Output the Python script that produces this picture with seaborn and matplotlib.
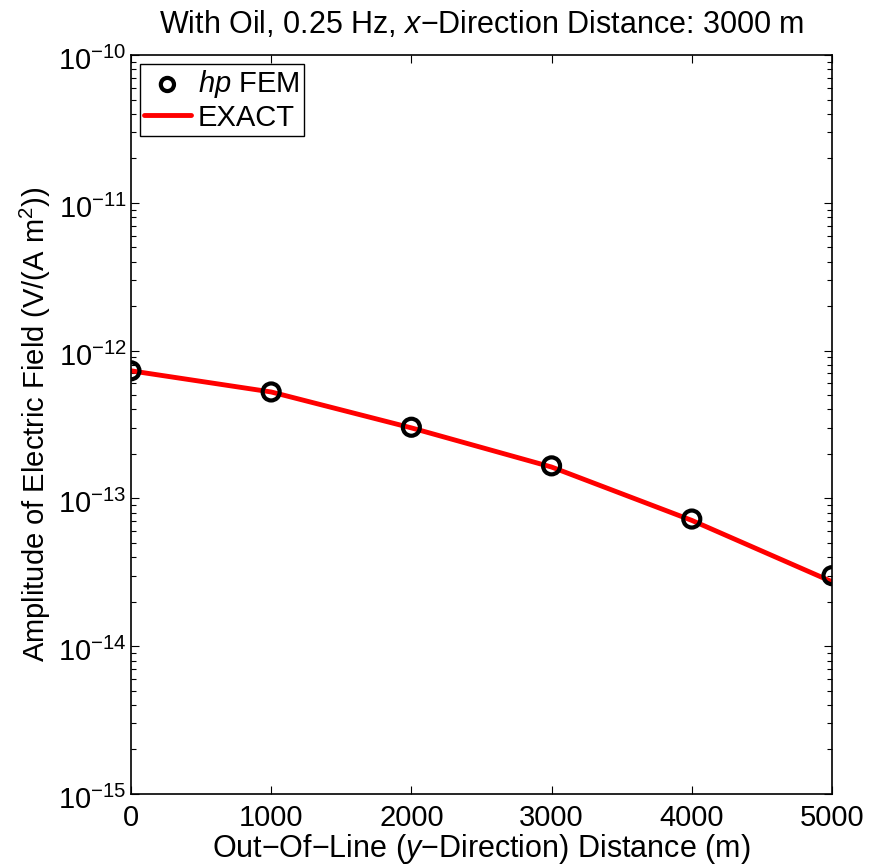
import numpy as np
import pandas as pd
import matplotlib
matplotlib.use("Agg")
import matplotlib.pyplot as plt
import matplotlib.transforms as mtransforms
import seaborn as sns
from matplotlib.ticker import LogLocator, NullFormatter

# Data
distance = [0, 1000, 2000, 3000, 4000, 5000]
fem_values = [7.3e-13, 5.25e-13, 3.03e-13, 1.66e-13, 7.25e-14, 3.0e-14]
exact_values = [7.3e-13, 5.25e-13, 3.0e-13, 1.63e-13, 7.1e-14, 2.73e-14]

df_fem = pd.DataFrame({"distance": distance, "value": fem_values})
df_exact = pd.DataFrame({"distance": distance, "value": exact_values})

sns.set_style("ticks")
plt.rcParams["font.family"] = ["Liberation Sans", "DejaVu Sans"]
plt.rcParams["mathtext.fontset"] = "custom"
plt.rcParams["mathtext.rm"] = "Liberation Sans"
plt.rcParams["mathtext.it"] = "Liberation Sans:italic"
plt.rcParams["xtick.direction"] = "in"
plt.rcParams["ytick.direction"] = "in"
plt.rcParams["text.color"] = "black"
plt.rcParams["axes.labelcolor"] = "black"
plt.rcParams["xtick.color"] = "black"
plt.rcParams["ytick.color"] = "black"

fig, ax = plt.subplots(figsize=(8.69, 8.65), dpi=100)
fig.subplots_adjust(left=0.1507, right=0.9574, bottom=0.0821, top=0.9364)

sns.scatterplot(
    data=df_fem, x="distance", y="value", ax=ax,
    marker="o", s=150, facecolors="none", edgecolor="black",
    linewidth=3, label="$\\it{hp}$ FEM", zorder=3
)
sns.lineplot(
    data=df_exact, x="distance", y="value", ax=ax,
    color="red", linewidth=3.5, label="EXACT", zorder=2
)

ax.set_yscale("log")
ax.set_ylim(1e-15, 1e-10)
ax.set_xlim(0, 5000)
ax.set_xticks(distance)
ax.yaxis.set_major_locator(LogLocator(base=10, numticks=10))
ax.yaxis.set_minor_locator(LogLocator(base=10, subs=np.arange(2, 10), numticks=20))
ax.yaxis.set_minor_formatter(NullFormatter())

ax.tick_params(which="both", top=True, right=True, labelsize=21)
ax.tick_params(axis="x", which="major", pad=7)
ax.tick_params(axis="y", which="major", pad=3)
ax.tick_params(which="major", length=6, width=0.8)
ax.tick_params(which="minor", length=3.5, width=0.8)
for spine in ax.spines.values():
    spine.set_linewidth(1.2)
    spine.set_color("black")

# MATLAB puts the "10" on the tick, with the exponent above it
shift = mtransforms.ScaledTranslation(0, -2.5 / 72, fig.dpi_scale_trans)
for lbl in ax.get_yticklabels():
    lbl.set_transform(lbl.get_transform() + shift)

ax.set_title("With Oil, 0.25 Hz, $\\it{x}$\u2212Direction Distance: 3000 m",
             fontsize=22, pad=16)
ax.set_xlabel("Out\u2212Of\u2212Line ($\\it{y}$\u2212Direction) Distance (m)",
              fontsize=22, labelpad=0)
ax.set_ylabel("Amplitude of Electric Field (V/(A m$^2$))", fontsize=21, labelpad=4)

leg = ax.legend(loc="upper left", fontsize=21, frameon=True, fancybox=False,
                edgecolor="black", handlelength=1.6, handletextpad=0.25,
                borderpad=0.15, labelspacing=0.12, borderaxespad=0.3)
leg.get_frame().set_linewidth(1.0)
leg.get_frame().set_alpha(1.0)
leg.legend_handles[0].set_sizes([90])

fig.savefig("out.png", dpi=100)
